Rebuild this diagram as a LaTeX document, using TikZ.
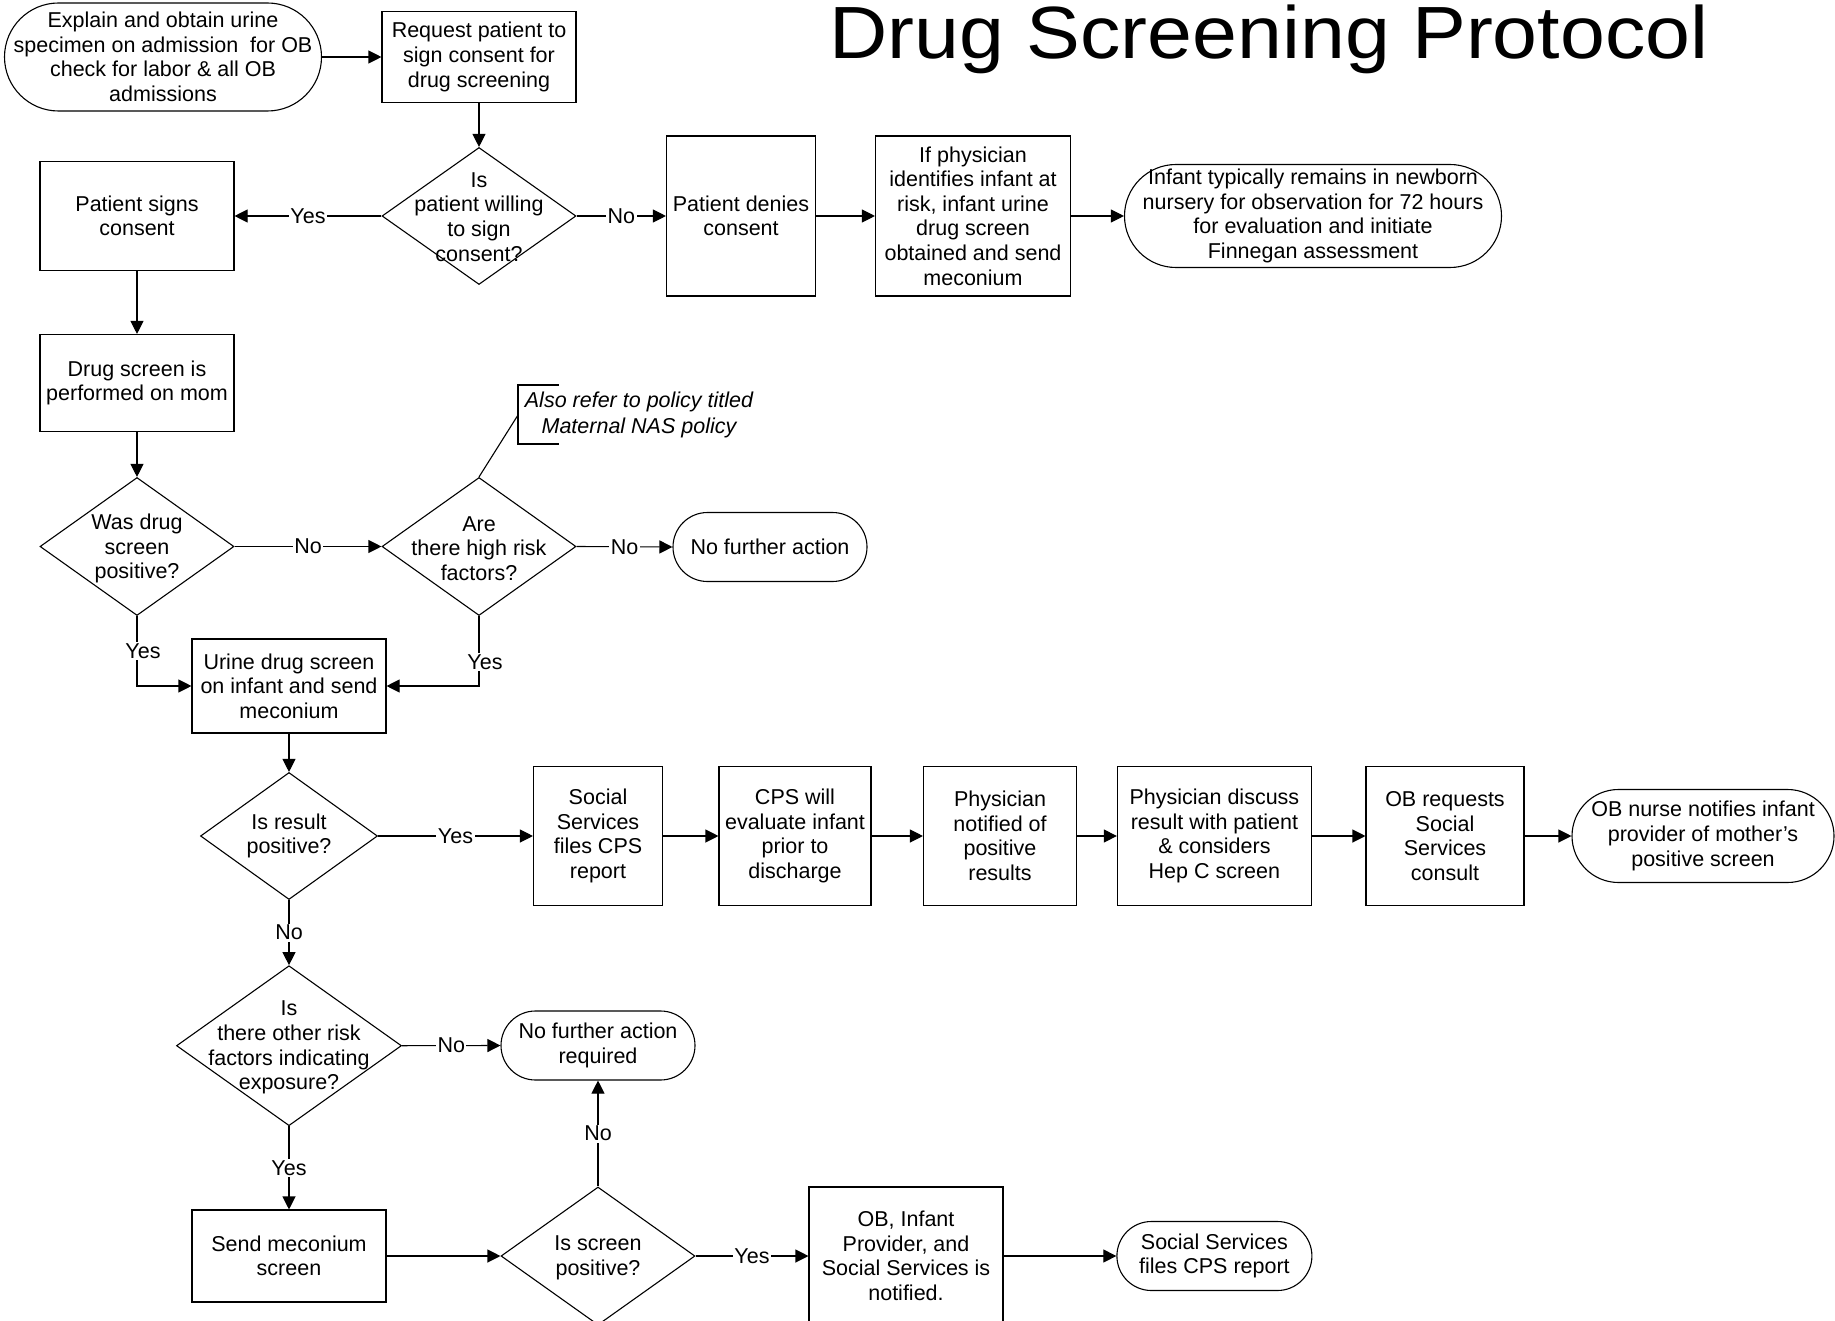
\documentclass[tikz,border=0pt]{standalone}
\usepackage{fontspec}
\usepackage{graphicx}
\setmainfont{Liberation Sans}
\usetikzlibrary{shapes.geometric,arrows.meta}
\tikzset{
  base/.style={draw=black, line width=1.1pt, align=center, inner sep=0pt, font=\fontsize{21.5}{24.6}\selectfont},
  proc/.style={base, rectangle},
  term/.style={base, rectangle, rounded corners=#1},
  dia/.style={base, diamond, aspect=1},
  txt/.style={align=center, inner sep=0pt, font=\fontsize{21.5}{24.6}\selectfont},
  lbl/.style={fill=white, inner sep=1.5pt, font=\fontsize{21.5}{24.6}\selectfont},
  conn/.style={line width=1.1pt, -{Triangle[length=13pt,width=13pt]}},
  plain/.style={line width=1.1pt}
}
\begin{document}
\begin{tikzpicture}[x=1pt,y=-1pt]
\useasboundingbox (0,0) rectangle (1835,1321);
\clip (0,0) rectangle (1835,1321);
\fill[white] (0,0) rectangle (1835,1321);

% title
\node[anchor=base, inner sep=0pt, font=\fontsize{74}{86}\selectfont] (title) at (1269,58.5) {\scalebox{1.09}[1]{Drug Screening Protocol}};

% row 0
\node[term=54pt, minimum width=317pt, minimum height=108pt] (start) at (163,57) {Explain and obtain urine\\specimen on admission\ \ for OB\\check for labor \& all OB\\admissions};
\node[proc, minimum width=194pt, minimum height=91pt] (request) at (479,57) {Request patient to\\sign consent for\\drug screening};

% row 1
\node[dia, minimum width=194pt, minimum height=137pt] (d1) at (479,216) {};
\node[txt] (d1t) at ([yshift=-1pt]d1) {Is\\patient willing\\to sign\\consent?};
\node[proc, minimum width=194pt, minimum height=109pt] (signs) at (137,216) {Patient signs\\consent};
\node[proc, minimum width=149pt, minimum height=160pt] (denies) at (741,216) {Patient denies\\consent};
\node[proc, minimum width=195pt, minimum height=160pt] (ifphys) at (973,216) {If physician\\identifies infant at\\risk, infant urine\\drug screen\\obtained and send\\meconium};
\node[term=51.5pt, minimum width=377pt, minimum height=103pt] (infant) at (1313,216) {Infant typically remains in newborn\\nursery for observation for 72 hours\\for evaluation and initiate\\Finnegan assessment};

% row 2
\node[proc, minimum width=194pt, minimum height=97pt] (drug) at (137,383) {Drug screen is\\performed on mom};
\node[dia, minimum width=194pt, minimum height=138pt] (d2) at (137,546.5) {};
\node[txt] (d2t) at ([yshift=-2pt]d2) {Was drug\\screen\\positive?};
\node[dia, minimum width=194pt, minimum height=138pt] (d3) at (479,546.5) {};
\node[txt] (d3t) at ([yshift=-2pt]d3) {Are\\there high risk\\factors?};
\node[term=34.5pt, minimum width=194pt, minimum height=69pt] (nfa) at (770,547) {No further action};

% annotation
\node[txt, font=\fontsize{21.5}{26}\selectfont\itshape] (note) at (639,415) {Also refer to policy titled\\Maternal NAS policy};
\coordinate (nb1) at (558.5,385);
\coordinate (nb2) at (518,385);
\coordinate (nb3) at (518,444);
\coordinate (nb4) at (558.5,444);
\coordinate (nmid) at (518,415);
\draw[plain] (nb1) -- (nb2) -- (nb3) -- (nb4);
\draw[plain] (d3.north) -- (nmid);

% urine
\node[proc, minimum width=194pt, minimum height=94pt] (urine) at (289,686) {Urine drug screen\\on infant and send\\meconium};

% row 3
\node[dia, minimum width=177pt, minimum height=127pt] (d4) at (289,836) {};
\node[txt] (d4t) at (d4) {Is result\\positive?};
\node[proc, minimum width=129pt, minimum height=139pt] (ss) at (598,836) {Social\\Services\\files CPS\\report};
\node[proc, minimum width=152pt, minimum height=139pt] (cps) at (795,836) {CPS will\\evaluate infant\\prior to\\discharge};
\node[proc, minimum width=153pt, minimum height=139pt] (phys) at (1000,836) {Physician\\notified of\\positive\\results};
\node[proc, minimum width=194pt, minimum height=139pt] (disc) at (1214.4,836) {Physician discuss\\result with patient\\\& considers\\Hep C screen};
\node[proc, minimum width=158pt, minimum height=139pt] (obreq) at (1445,836) {OB requests\\Social\\Services\\consult};
\node[term=46.5pt, minimum width=262pt, minimum height=93pt] (nurse) at (1703,836) {OB nurse notifies infant\\provider of mother’s\\positive screen};

% row 4
\node[dia, minimum width=225pt, minimum height=160pt] (d5) at (289,1045.7) {};
\node[txt] (d5t) at ([yshift=-2pt]d5) {Is\\there other risk\\factors indicating\\exposure?};
\node[term=34.5pt, minimum width=194pt, minimum height=69pt] (nfa2) at (598,1045.5) {No further action\\required};

% row 5
\node[proc, minimum width=194pt, minimum height=92pt] (send) at (289,1256) {Send meconium\\screen};
\node[dia, minimum width=194pt, minimum height=138pt] (d6) at (598,1256) {};
\node[txt] (d6t) at ([yshift=-2pt]d6) {Is screen\\positive?};
\node[proc, minimum width=194pt, minimum height=138pt] (obinf) at (906,1256) {OB, Infant\\Provider, and\\Social Services is\\notified.};
\node[term=34.5pt, minimum width=195pt, minimum height=69pt] (ssterm) at (1214.4,1256) {Social Services\\files CPS report};

% connectors
\draw[conn] (start.east |- request.west) -- (request.west);
\draw[conn] (request) -- (d1);
\draw[conn] (d1.west) -- node[lbl] {Yes} (signs.east);
\draw[conn] (d1.east) -- node[lbl] {No} (denies.west);
\draw[conn] (denies) -- (ifphys);
\draw[conn] (ifphys) -- (infant);
\draw[conn] (signs) -- (drug);
\draw[conn] (drug) -- (d2);
\draw[conn] (d2.east) -- node[lbl] {No} (d3.west);
\draw[conn] (d3.east) -- node[lbl] {No} (nfa.west);
\draw[conn] (d2.south) |- node[lbl, pos=0.25, xshift=6pt] {Yes} (urine.west);
\draw[conn] (d3.south) |- node[lbl, pos=0.33, xshift=6pt] {Yes} (urine.east);
\draw[conn] (urine) -- (d4);
\draw[conn] (d4.east) -- node[lbl] {Yes} (ss.west);
\draw[conn] (ss) -- (cps);
\draw[conn] (cps) -- (phys);
\draw[conn] (phys) -- (disc);
\draw[conn] (disc) -- (obreq);
\draw[conn] (obreq) -- (nurse);
\draw[conn] (d4.south) -- node[lbl] {No} (d5.north);
\draw[conn] (d5.east) -- node[lbl] {No} (nfa2.west);
\draw[conn] (d5.south) -- node[lbl] {Yes} (send.north);
\draw[conn] (send) -- (d6);
\draw[conn] (d6.north) -- node[lbl] {No} (nfa2.south);
\draw[conn] (d6.east) -- node[lbl] {Yes} (obinf.west);
\draw[conn] (obinf) -- (ssterm);
\end{tikzpicture}
\end{document}
